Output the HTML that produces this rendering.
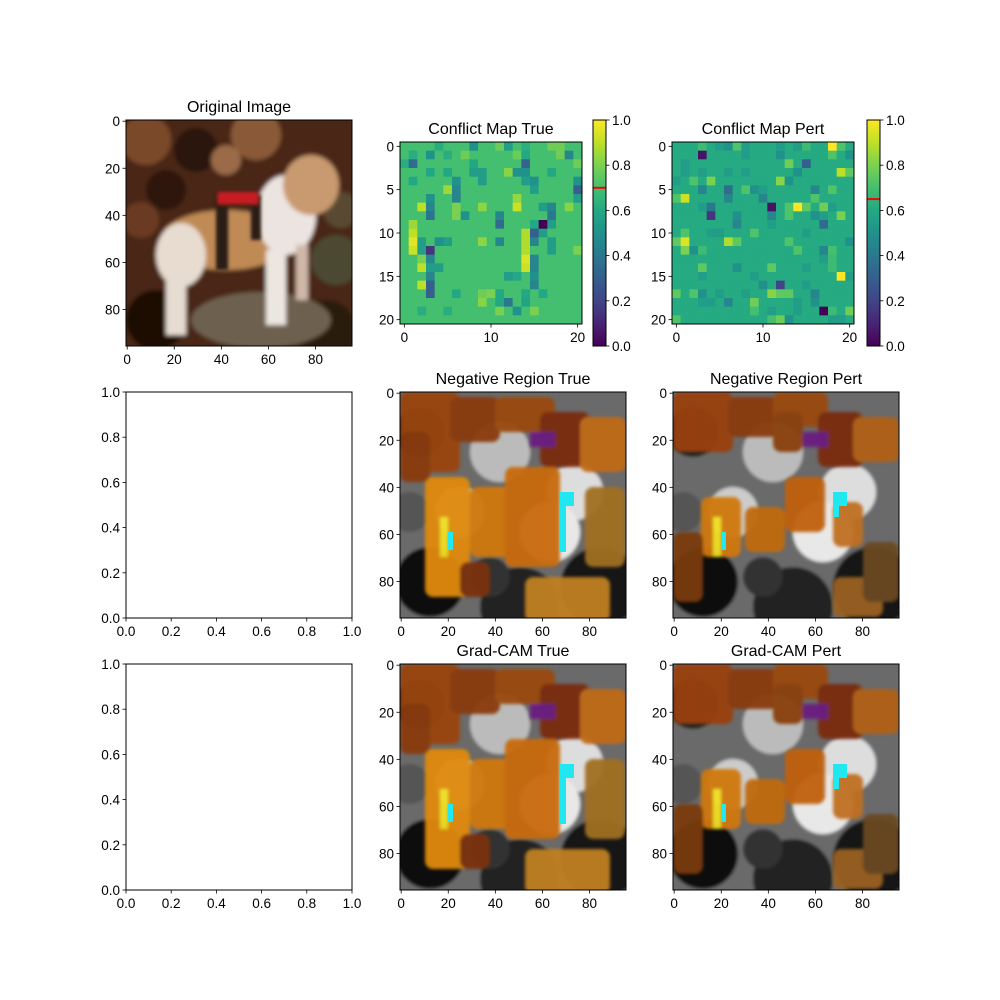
<!DOCTYPE html>
<html><head><meta charset="utf-8"><style>
html,body{margin:0;padding:0;background:#fff}
svg{display:block;font-family:"Liberation Sans","DejaVu Sans",sans-serif}
</style></head><body>
<svg id="fig" width="1000" height="1000" viewBox="0 0 1000 1000" xmlns="http://www.w3.org/2000/svg">
<defs>
<filter id="blur1"><feGaussianBlur stdDeviation="2.2"/></filter>
<filter id="blur2"><feGaussianBlur stdDeviation="1.5"/></filter>
<clipPath id="imgclip"><rect x="0" y="0" width="226" height="226"/></clipPath>
</defs>
</svg>
<script>
// ---------- data ----------
const imgTicks = [0, 20, 40, 60, 80];
const mapTicksY = [0, 5, 10, 15, 20];
const mapTicksX = [0, 10, 20];
const cbTicks = [0.0, 0.2, 0.4, 0.6, 0.8, 1.0];
const emptyTicks = [0.0, 0.2, 0.4, 0.6, 0.8, 1.0];
const trueBase = 0.70;
const pertBase = 0.61;
const trueThreshold = 0.70;
const pertThreshold = 0.65;
// outliers: [row, col, value]
const trueCells = [[0,4,0.62],[0,8,0.5],[0,11,0.77],[0,12,0.55],[0,14,0.63],[0,17,0.78],[0,18,0.78],[1,1,0.62],[1,3,0.5],[1,5,0.62],[1,7,0.78],[1,13,0.77],[1,14,0.6],[1,18,0.78],[1,19,0.45],[2,0,0.62],[2,1,0.35],[2,8,0.6],[2,14,0.32],[2,20,0.78],[3,3,0.6],[3,5,0.6],[3,8,0.55],[3,9,0.55],[3,12,0.82],[3,13,0.5],[3,14,0.5],[3,17,0.6],[4,1,0.6],[4,6,0.5],[4,9,0.55],[4,14,0.55],[4,15,0.5],[4,20,0.5],[5,5,0.85],[5,6,0.45],[5,15,0.55],[5,20,0.3],[6,3,0.5],[6,6,0.45],[6,13,0.84],[6,20,0.55],[7,2,0.9],[7,3,0.45],[7,6,0.8],[7,9,0.83],[7,13,0.92],[7,16,0.55],[7,17,0.45],[7,19,0.82],[8,3,0.38],[8,6,0.8],[8,7,0.5],[8,11,0.45],[8,17,0.4],[9,1,0.85],[9,11,0.35],[9,15,0.6],[9,16,0.0],[9,17,0.55],[10,1,0.9],[10,14,0.88],[10,15,0.3],[10,16,0.55],[11,1,0.96],[11,2,0.55],[11,4,0.5],[11,5,0.55],[11,9,0.83],[11,11,0.45],[11,14,0.88],[11,15,0.45],[11,17,0.55],[12,1,0.92],[12,2,0.55],[12,3,0.15],[12,14,0.88],[12,17,0.55],[12,20,0.8],[13,2,0.8],[13,3,0.45],[13,14,0.95],[13,15,0.45],[14,2,0.9],[14,3,0.55],[14,4,0.55],[14,14,0.92],[14,15,0.45],[15,3,0.45],[15,12,0.55],[15,13,0.6],[15,15,0.5],[16,2,0.9],[16,3,0.3],[16,15,0.45],[17,3,0.3],[17,6,0.6],[17,9,0.78],[17,10,0.8],[17,11,0.6],[17,14,0.6],[17,16,0.6],[18,9,0.82],[18,11,0.6],[18,12,0.4],[18,14,0.58],[19,2,0.62],[19,5,0.62],[19,11,0.8],[19,13,0.5],[19,15,0.8]];
const pertCells = [[0,3,0.68],[0,5,0.55],[0,6,0.5],[0,7,0.72],[0,8,0.55],[0,12,0.55],[0,14,0.55],[0,15,0.68],[0,18,1.0],[0,19,0.72],[1,3,0.05],[1,8,0.55],[1,12,0.5],[1,18,0.72],[1,20,0.5],[2,1,0.55],[2,13,0.78],[2,15,0.3],[3,1,0.55],[3,3,0.55],[3,6,0.55],[3,8,0.55],[3,14,0.5],[3,19,0.9],[3,20,0.75],[4,0,0.55],[4,2,0.72],[4,4,0.8],[4,12,0.82],[4,13,0.5],[5,3,0.45],[5,6,0.35],[5,8,0.72],[5,9,0.5],[5,10,0.55],[5,16,0.45],[5,18,0.72],[6,0,0.72],[6,1,0.92],[6,6,0.45],[6,10,0.45],[6,16,0.72],[7,3,0.55],[7,4,0.4],[7,11,0.05],[7,13,0.72],[7,14,1.0],[7,15,0.75],[7,17,0.78],[7,18,0.55],[8,4,0.15],[8,7,0.5],[8,11,0.45],[8,13,0.72],[8,16,0.5],[8,17,0.55],[8,19,0.8],[9,7,0.45],[9,11,0.55],[9,17,0.35],[10,1,0.72],[10,4,0.55],[10,5,0.55],[10,9,0.72],[10,15,0.55],[11,0,0.75],[11,1,0.95],[11,6,0.88],[11,7,0.75],[11,13,0.72],[11,20,0.5],[12,1,0.8],[12,2,0.5],[12,3,0.68],[12,14,0.72],[12,17,0.45],[12,18,0.7],[13,17,0.55],[13,18,0.68],[14,3,0.75],[14,7,0.5],[14,11,0.75],[14,15,0.55],[14,18,0.68],[15,3,0.55],[15,9,0.55],[15,19,1.0],[15,20,0.55],[16,10,0.5],[16,12,0.2],[16,15,0.55],[17,0,0.75],[17,2,0.72],[17,3,0.5],[17,5,0.55],[17,8,0.55],[17,11,0.82],[17,12,0.75],[17,13,0.75],[17,16,0.45],[18,3,0.55],[18,4,0.55],[18,6,0.45],[18,9,0.78],[18,14,0.55],[18,16,0.5],[19,9,0.7],[19,11,0.55],[19,14,0.55],[19,17,0.0],[19,18,0.68],[19,20,0.78],[20,0,0.72],[20,11,0.7],[20,12,0.78],[20,13,0.5],[20,18,0.55],[20,19,0.55]];

// ---------- helpers ----------
const NS = "http://www.w3.org/2000/svg";
const svg = document.getElementById("fig");
function mk(tag, attrs, parent) {
  const e = document.createElementNS(NS, tag);
  for (const k in attrs) e.setAttribute(k, attrs[k]);
  (parent || svg).appendChild(e);
  return e;
}
const VIR = [[68,1,84],[72,36,117],[65,68,135],[53,95,141],[42,120,142],[33,145,140],[34,168,132],[68,191,112],[122,209,81],[189,223,38],[253,231,37]];
function viridis(v) {
  v = Math.max(0, Math.min(1, v));
  const p = v * (VIR.length - 1), i = Math.min(Math.floor(p), VIR.length - 2), f = p - i;
  const c = VIR[i].map((a, j) => Math.round(a + (VIR[i + 1][j] - a) * f));
  return `rgb(${c[0]},${c[1]},${c[2]})`;
}
function text(x, y, s, anchor, size, name) {
  const t = mk("text", {x: x, y: y, "text-anchor": anchor, "font-size": size, fill: "#000"});
  t.textContent = s;
  
  
  return t;
}
function axesFrame(x, y, w, h, name) {
  const r = mk("rect", {x: x, y: y, width: w, height: h, fill: "none", stroke: "#000", "stroke-width": 1});
  
  
}
function xTicks(ticks, sx, yb, fmt, name) {
  ticks.forEach(v => {
    const px = sx(v);
    mk("line", {x1: px, y1: yb, x2: px, y2: yb + 3.5, stroke: "#000", "stroke-width": 0.8});
    text(px, yb + 18, fmt(v), "middle", 13.5, name);
  });
}
function yTicks(ticks, sy, xl, fmt, name) {
  ticks.forEach(v => {
    const py = sy(v);
    mk("line", {x1: xl - 3.5, y1: py, x2: xl, y2: py, stroke: "#000", "stroke-width": 0.8});
    text(xl - 6, py + 5, fmt(v), "end", 13.5, name);
  });
}
function title(cx, y, s, name) { text(cx, y, s, "middle", 16, name); }

// ---------- images ----------
function dogImage(x, y) {
  const g = mk("g", {transform: `translate(${x},${y})`, "clip-path": "url(#imgclip)"});
  
  
  const b = mk("g", {filter: "url(#blur1)"}, g);
  mk("rect", {x: -5, y: -5, width: 240, height: 240, fill: "#4a2614"}, b);
  [[20,20,25,"#7a4a2a"],[70,30,22,"#2a140a"],[130,15,25,"#8a5a38"],[40,70,20,"#2e160a"],[100,40,15,"#9a6a48"],[15,100,18,"#6a3a20"],[210,140,25,"#4c4a30"],[30,200,30,"#1a0c06"],[200,210,30,"#2a1a10"],[215,90,18,"#5a4a30"]].forEach(c => mk("circle", {cx: c[0], cy: c[1], r: c[2], fill: c[3]}, b));
  mk("ellipse", {cx: 135, cy: 200, rx: 70, ry: 28, fill: "#6e6050"}, b);
  mk("ellipse", {cx: 100, cy: 120, rx: 65, ry: 30, fill: "#c08a55"}, b);
  mk("ellipse", {cx: 55, cy: 135, rx: 25, ry: 32, fill: "#e8dcd0"}, b);
  mk("ellipse", {cx: 160, cy: 95, rx: 30, ry: 40, fill: "#ece4e0"}, b);
  mk("ellipse", {cx: 185, cy: 65, rx: 28, ry: 30, fill: "#c99a70"}, b);
  mk("rect", {x: 40, y: 150, width: 20, height: 65, fill: "#e6dcd2"}, b);
  mk("rect", {x: 140, y: 130, width: 20, height: 75, fill: "#ece6e0"}, b);
  mk("rect", {x: 170, y: 125, width: 12, height: 55, fill: "#d0b8a8"}, b);
  const s = mk("g", {filter: "url(#blur2)"}, g);
  mk("rect", {x: 90, y: 75, width: 12, height: 75, fill: "#2a1a14"}, s);
  mk("rect", {x: 125, y: 75, width: 10, height: 45, fill: "#2a1a14"}, s);
  mk("rect", {x: 92, y: 72, width: 40, height: 12, fill: "#c81a20"}, s);
}
function overlayImage(x, y, variant, name) {
  const g = mk("g", {transform: `translate(${x},${y})`, "clip-path": "url(#imgclip)"});
  
  
  const b = mk("g", {filter: "url(#blur2)"}, g);
  mk("rect", {x: -5, y: -5, width: 240, height: 240, fill: "#6a6a6a"}, b);
  [[20,40,25,"#222"],[100,60,30,"#bbb"],[30,190,35,"#111"],[200,195,40,"#151515"],[120,215,40,"#222"],[175,100,28,"#ddd"],[60,120,25,"#ccc"],[150,140,30,"#e8e8e8"],[10,120,20,"#555"],[90,185,20,"#333"]].forEach(c => mk("circle", {cx: c[0], cy: c[1], r: c[2], fill: c[3]}, b));
  const o = mk("g", {filter: "url(#blur2)", opacity: 0.95}, g);
  const blocksA = [[0,0,60,80,"#9a4408"],[50,5,50,45,"#8a3a08"],[95,5,60,35,"#9a4a10"],[140,20,50,55,"#7a2a0a"],[180,25,46,55,"#c06a18"],[25,85,45,120,"#e08a10"],[70,95,45,70,"#d07810"],[105,75,55,100,"#c86a10"],[185,95,40,80,"#a07020"],[125,185,85,45,"#c08020"],[60,170,30,35,"#7a3010"],[0,40,30,50,"#8a3a0a"]];
  const blocksB = [[0,0,60,60,"#9a4008"],[55,5,50,40,"#8a3a08"],[100,0,55,35,"#9a4a10"],[145,20,45,55,"#7a2a0a"],[180,25,46,45,"#b06018"],[28,105,40,60,"#d07810"],[72,115,40,45,"#c06a10"],[112,85,40,55,"#c06010"],[160,110,30,45,"#c07020"],[160,185,50,40,"#9a6020"],[0,140,30,70,"#7a3a10"],[190,150,36,60,"#6a4a20"],[100,20,30,40,"#8a4010"]];
  (variant === 0 ? blocksA : blocksB).forEach(r => mk("rect", {x: r[0], y: r[1], width: r[2], height: r[3], rx: 8, fill: r[4]}, o));
  mk("rect", {x: 40, y: 125, width: 8, height: 40, fill: "#f0e020"}, o);
  mk("rect", {x: 48, y: 140, width: 5, height: 18, fill: "#20e8f0"}, g);
  mk("rect", {x: 160, y: 100, width: 6, height: variant === 0 ? 60 : 25, fill: "#20e8f0"}, g);
  mk("rect", {x: 166, y: 100, width: 8, height: 14, fill: "#20e8f0"}, g);
  mk("rect", {x: 130, y: 40, width: 25, height: 15, fill: "#6a1a80"}, o);
}

// ---------- axes layout ----------
const IMG = 226, N = 96;
function imgAxes(x0, y0, ttl, name, drawFn) {
  drawFn(x0, y0);
  axesFrame(x0, y0, IMG, IMG, name + "-frame");
  const s = v => (v + 0.5) * IMG / N;
  xTicks(imgTicks, v => x0 + s(v), y0 + IMG, v => String(v), name + "-x-tick");
  yTicks(imgTicks, v => y0 + s(v), x0, v => String(v), name + "-y-tick");
  title(x0 + IMG / 2, y0 - 8, ttl, name + "-title");
}
function mapAxes(x0, y0, base, cells, thr, ttl, name, cbx) {
  const W = 182, n = 21, c = W / n;
  const grid = [];
  for (let r = 0; r < n; r++) { grid.push(new Array(n).fill(base)); }
  cells.forEach(t => { grid[t[0]][t[1]] = t[2]; });
  const g = mk("g", {});
  
  
  for (let r = 0; r < n; r++) for (let q = 0; q < n; q++) {
    const cell = mk("rect", {x: x0 + q * c, y: y0 + r * c, width: c + 0.4, height: c + 0.4, fill: viridis(grid[r][q])}, g);
    
    
  }
  axesFrame(x0, y0, W, W, name + "-frame");
  const s = v => (v + 0.5) * c;
  xTicks(mapTicksX, v => x0 + s(v), y0 + W, v => String(v), name + "-x-tick");
  yTicks(mapTicksY, v => y0 + s(v), x0, v => String(v), name + "-y-tick");
  title(x0 + W / 2, y0 - 8, ttl, name + "-title");
  const cy0 = 120, ch = 226, cw = 13;
  const cb = mk("g", {});
  
  
  for (let i = 0; i < 113; i++) {
    mk("rect", {x: cbx, y: cy0 + ch - (i + 1) * 2, width: cw, height: 2.3, fill: viridis((i + 0.5) / 113)}, cb);
  }
  mk("line", {x1: cbx, x2: cbx + cw, y1: cy0 + ch * (1 - thr), y2: cy0 + ch * (1 - thr), stroke: "#ff0000", "stroke-width": 2}, cb);
  axesFrame(cbx, cy0, cw, ch, name + "-colorbar-frame");
  cbTicks.forEach(v => {
    const py = cy0 + ch * (1 - v);
    mk("line", {x1: cbx + cw, y1: py, x2: cbx + cw + 3.5, y2: py, stroke: "#000", "stroke-width": 0.8});
    text(cbx + cw + 6, py + 5, v.toFixed(1), "start", 13.5, name + "-colorbar-tick");
  });
}
function emptyAxes(x0, y0, name) {
  mk("rect", {x: x0, y: y0, width: IMG, height: IMG, fill: "#fff"});
  axesFrame(x0, y0, IMG, IMG, name + "-frame");
  xTicks(emptyTicks, v => x0 + v * IMG, y0 + IMG, v => v.toFixed(1), name + "-x-tick");
  yTicks(emptyTicks, v => y0 + IMG - v * IMG, x0, v => v.toFixed(1), name + "-y-tick");
}

imgAxes(126, 120, "Original Image", "original-image", dogImage);
mapAxes(400, 142, trueBase, trueCells, trueThreshold, "Conflict Map True", "conflict-map-true", 593);
mapAxes(672, 142, pertBase, pertCells, pertThreshold, "Conflict Map Pert", "conflict-map-pert", 867);
emptyAxes(126, 392, "empty-axes-row2");
imgAxes(400, 392, "Negative Region True", "negative-region-true", (x, y) => overlayImage(x, y, 0, "negative-region-true-image"));
imgAxes(673, 392, "Negative Region Pert", "negative-region-pert", (x, y) => overlayImage(x, y, 1, "negative-region-pert-image"));
emptyAxes(126, 664, "empty-axes-row3");
imgAxes(400, 664, "Grad-CAM True", "grad-cam-true", (x, y) => overlayImage(x, y, 0, "grad-cam-true-image"));
imgAxes(673, 664, "Grad-CAM Pert", "grad-cam-pert", (x, y) => overlayImage(x, y, 1, "grad-cam-pert-image"));
</script>
</body></html>
